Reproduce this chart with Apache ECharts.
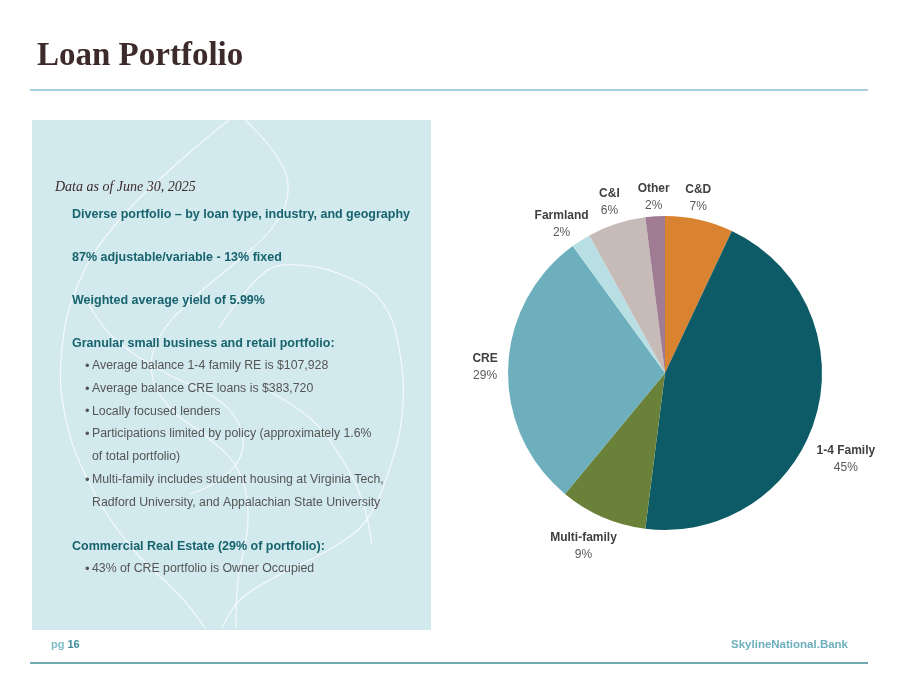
<!DOCTYPE html>
<html>
<head>
<meta charset="utf-8">
<script src="https://cdn.jsdelivr.net/npm/echarts@6/dist/echarts.min.js"></script>
<style>
  html, body { margin: 0; padding: 0; background: #fff; }
  #chart { width: 899px; height: 695px; }
</style>
</head>
<body>
<div id="chart"></div>
<script>
// loan mix, clockwise from 12 o'clock
var categories = ['C&D', '1-4 Family', 'Multi-family', 'CRE', 'Farmland', 'C&I', 'Other'];
var shares = [7, 45, 9, 29, 2, 6, 2];
var sliceColors = ['#D9822F', '#0D5B66', '#6A8139', '#6DAFBD', '#B8DFE3', '#C7BBB8', '#A07B94'];

var headings = [
  'Diverse portfolio \u2013 by loan type, industry, and geography',
  '87% adjustable/variable - 13% fixed',
  'Weighted average yield of 5.99%',
  'Granular small business and retail portfolio:',
  'Commercial Real Estate (29% of portfolio):'
];
var granularBullets = [
  ['Average balance 1-4 family RE is $107,928'],
  ['Average balance CRE loans is $383,720'],
  ['Locally focused lenders'],
  ['Participations limited by policy (approximately 1.6%', 'of total portfolio)'],
  ['Multi-family includes student housing at Virginia Tech,', 'Radford University, and Appalachian State University']
];
var creBullets = [
  ['43% of CRE portfolio is Owner Occupied']
];

var teal = '#17636E';
var grey = '#555555';
var sans = 'Liberation Sans, Arial, sans-serif';
var pieCenter = [665, 373];
var pieRadius = 157;
var labelRadius = 180;
// hand nudges where the original spreads crowded labels apart
var labelNudge = { 'C&D': [-6, 1], 'Other': [0, 4], 'Farmland': [-7, 3], '1-4 Family': [8, 36], 'Multi-family': [-10, 8] };

var myChart = echarts.init(document.getElementById('chart'), null, { renderer: 'canvas' });

var gfx = [];
// title + rules
gfx.push({ type: 'text', left: 37, top: 40, style: { text: 'Loan Portfolio', font: 'bold 33px "Liberation Serif", Georgia, serif', fill: '#3D2B2B' } });
gfx.push({ type: 'rect', shape: { x: 30, y: 89, width: 838, height: 2 }, style: { fill: '#A9D0DC' } });
gfx.push({ type: 'rect', shape: { x: 30, y: 662, width: 838, height: 2 }, style: { fill: '#72A9B1' } });
gfx.push({ type: 'text', left: 51, top: 639, style: {
  text: '{a|pg }{b|16}',
  rich: {
    a: { font: 'bold 11px ' + sans, fill: '#7DBCC6' },
    b: { font: 'bold 11px ' + sans, fill: '#3F8E9A' }
  }
} });
gfx.push({ type: 'text', right: 51, top: 639, style: { text: 'SkylineNational.Bank', font: 'bold 11.5px ' + sans, fill: '#6DAFBD' } });

// left panel with faint ribbon curves
gfx.push({ type: 'rect', z: 0, shape: { x: 32, y: 120, width: 399, height: 510 }, style: { fill: '#D2E9EE' } });
var curveStyle = { stroke: 'rgba(255,255,255,0.75)', lineWidth: 1.2, fill: null };
var curves = [
  [[229, 120], [172, 168], [115, 225], [79, 282], [62, 348], [65, 415], [89, 482], [132, 548], [182, 598], [205, 628]],
  [[245, 120], [278, 158], [288, 192], [272, 228], [236, 262], [196, 296], [160, 336], [152, 374], [172, 410], [206, 436], [238, 470], [248, 520], [238, 580], [236, 628]],
  [[219, 328], [265, 272], [299, 265], [349, 278], [382, 302], [399, 348], [402, 415], [385, 482], [365, 522], [332, 548], [279, 575], [240, 600], [222, 628]],
  [[86, 300], [112, 336], [160, 370], [212, 396], [238, 422], [242, 452], [222, 478], [190, 494]],
  [[270, 392], [312, 420], [340, 456], [362, 500], [372, 545]]
];
curves.forEach(function (pts) {
  gfx.push({ type: 'polyline', z: 1, silent: true, shape: { points: pts, smooth: 0.4 }, style: curveStyle });
});

// panel text
gfx.push({ type: 'text', z: 5, left: 55, top: 180, style: { text: 'Data as of June 30, 2025', font: 'italic 14px "Liberation Serif", Georgia, serif', fill: '#3D2B2B' } });
var headingY = [208, 251, 294, 337, 540];
headings.forEach(function (h, i) {
  gfx.push({ type: 'text', z: 5, left: 72, top: headingY[i], style: { text: h, font: 'bold 12.5px ' + sans, fill: teal } });
});
function addBullets(list, y0) {
  var y = y0;
  list.forEach(function (lines) {
    lines.forEach(function (line, j) {
      if (j === 0) {
        gfx.push({ type: 'text', z: 5, left: 85, top: y, style: { text: '\u2022', font: '13px ' + sans, fill: grey } });
      }
      gfx.push({ type: 'text', z: 5, left: 92, top: y, style: { text: line, font: '12.3px ' + sans, fill: grey } });
      y += 22.7;
    });
  });
}
addBullets(granularBullets, 360);
addBullets(creBullets, 563);

var total = shares.reduce(function (a, b) { return a + b; }, 0);
function midAngle(idx) {
  var before = 0;
  for (var i = 0; i < idx; i++) before += shares[i];
  return (before + shares[idx] / 2) / total * Math.PI * 2;
}

var option = {
  animation: false,
  backgroundColor: '#ffffff',
  graphic: gfx,
  series: [{
    type: 'pie',
    center: pieCenter,
    radius: pieRadius,
    startAngle: 90,
    clockwise: true,
    z: 3,
    data: categories.map(function (c, i) {
      return { name: c, value: shares[i], itemStyle: { color: sliceColors[i] } };
    }),
    label: {
      show: true,
      position: 'outside',
      overflow: 'none',
      formatter: '{n|{b}}\n{p|{c}%}',
      rich: {
        n: { fontFamily: sans, fontWeight: 'bold', fontSize: 12, color: '#404040', lineHeight: 17 },
        p: { fontFamily: sans, fontSize: 12, color: '#595959', lineHeight: 17 }
      }
    },
    labelLine: { show: false },
    labelLayout: function (p) {
      var a = midAngle(p.dataIndex);
      var nudge = labelNudge[categories[p.dataIndex]] || [0, 0];
      return {
        x: pieCenter[0] + Math.sin(a) * labelRadius + nudge[0],
        y: pieCenter[1] - Math.cos(a) * labelRadius + nudge[1],
        align: 'center',
        verticalAlign: 'middle'
      };
    },
    emphasis: { disabled: true }
  }]
};
myChart.setOption(option);
</script>
</body>
</html>
